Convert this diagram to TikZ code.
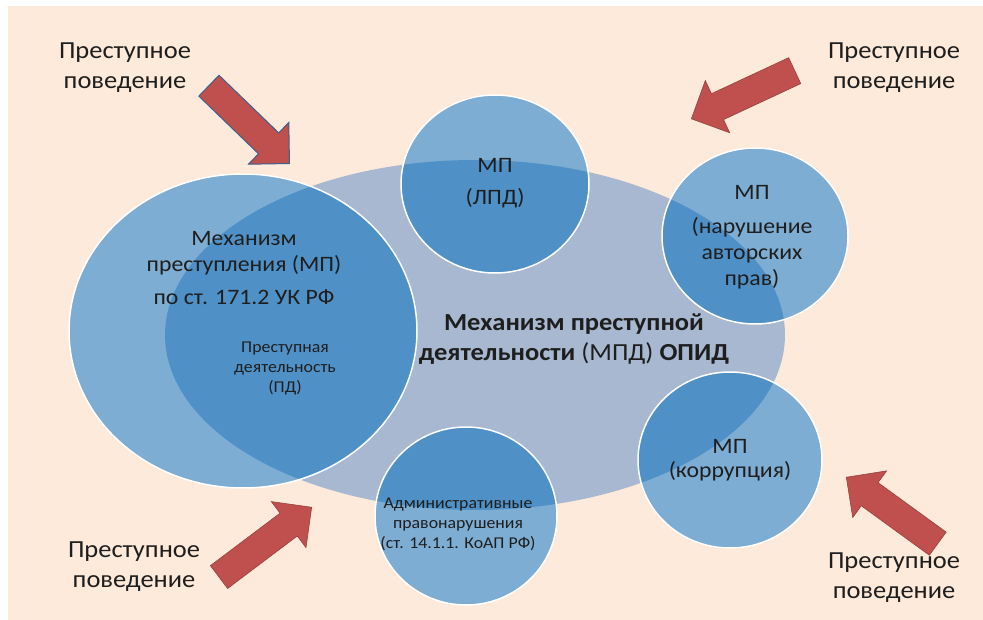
\documentclass[tikz,border=0pt]{standalone}
\usepackage{fontspec}
\setmainfont{Carlito}[FakeStretch=1.08]
\usetikzlibrary{shapes.geometric,shapes.arrows}

\definecolor{peach}{HTML}{FDEADA}
\definecolor{opidgray}{HTML}{A8B8D0}
\definecolor{mplight}{HTML}{7DADD2}
\definecolor{mpdark}{HTML}{4F91C6}
\definecolor{arrowred}{HTML}{C0504D}
\definecolor{arrowedge}{HTML}{3F5F8C}
\definecolor{textgray}{HTML}{1E1E1E}

\tikzset{
  mpcircle/.style={ellipse, fill=mplight, draw=white, line width=1.5pt, inner sep=0pt,
    path picture={\fill[mpdark] (opid.center) ellipse [x radius=310pt, y radius=175pt];}},
  bigarrow/.style={single arrow, fill=arrowred, draw=arrowred!80!black, line width=0.6pt,
    inner xsep=0pt, inner ysep=14pt, single arrow head extend=14.5pt, anchor=tip},
  crimelabel/.style={align=center, text=textgray, font=\fontsize{24.5}{30}\selectfont},
  mptext/.style={align=center, text=textgray, font=\fontsize{22}{26}\selectfont},
  smalltext/.style={align=center, text=textgray, font=\fontsize{16.5}{20}\selectfont},
}

\begin{document}
\begin{tikzpicture}[x=1pt,y=-1pt]
    \useasboundingbox (0,0) rectangle (983,620);
    \fill[peach] (8,6) rectangle (983,620);

    % central mechanism and the crime mechanisms around it
    \node[ellipse, fill=opidgray, minimum width=620pt, minimum height=350pt] (opid) at (475,335) {};
    \node[mpcircle, minimum width=348pt, minimum height=314pt] (mp171) at (243,331) {};
    \node[mpcircle, minimum width=188pt, minimum height=178pt] (lpd) at (495,184) {};
    \node[mpcircle, minimum width=186pt, minimum height=176pt] (avtor) at (755,236) {};
    \node[mpcircle, minimum width=184pt, minimum height=176pt] (korr) at (730,460) {};
    \node[mpcircle, minimum width=182pt, minimum height=178pt] (koap) at (466,516) {};

    % texts
    \node[font=\fontsize{24.5}{30}\selectfont, text=textgray, align=center] (opidtext) at (574,339)
        {\textbf{Механизм преступной}\\\textbf{деятельности} (МПД) \textbf{ОПИД}};
    \node[mptext] (mp171text) at (244,268) {Механизм\\преступления (МП)\\[7pt]по ст. 171.2 УК РФ};
    \node[smalltext] (pdtext) at (285,368) {Преступная\\деятельность\\(ПД)};
    \node[mptext] (lpdtext) at (495,183) {МП\\[6pt](ЛПД)};
    \node[mptext] (avtortext) at (752,237) {МП\\[8pt](нарушение\\авторских\\прав)};
    \node[mptext, font=\fontsize{22}{24}\selectfont] (korrtext) at (730,460) {МП\\(коррупция)};
    \node[smalltext] (koaptext) at (458,524) {Административные\\правонарушения\\(ст. 14.1.1. КоАП РФ)};

    % criminal behaviour from outside
    \node[bigarrow, draw=arrowedge, line width=1pt, minimum height=112pt, rotate=-44] (arrtl) at (290,164) {};
    \node[bigarrow, minimum height=114pt, rotate=205] (arrtr) at (691,119) {};
    \node[bigarrow, minimum height=113pt, rotate=144] (arrbr) at (846,477) {};
    \node[bigarrow, minimum height=116pt, rotate=37] (arrbl) at (312,507) {};

    \node[crimelabel] (lbltl) at (125,68) {Преступное\\поведение};
    \node[crimelabel] (lbltr) at (894,68) {Преступное\\поведение};
    \node[crimelabel] (lblbl) at (134,567) {Преступное\\поведение};
    \node[crimelabel] (lblbr) at (894,578) {Преступное\\поведение};
\end{tikzpicture}
\end{document}
